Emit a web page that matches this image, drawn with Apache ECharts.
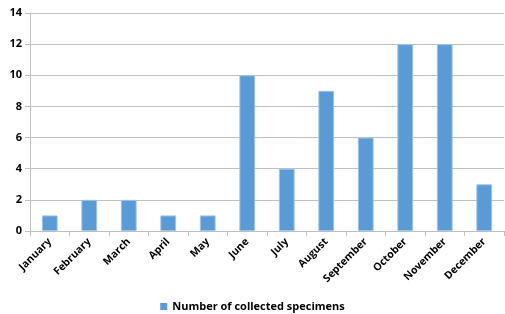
<!DOCTYPE html>
<html>
<head>
<meta charset="utf-8">
<script src="https://cdn.jsdelivr.net/npm/echarts@6/dist/echarts.min.js"></script>
<style>
  html, body { margin: 0; padding: 0; background: #fff; }
  #chart { width: 505px; height: 314px; }
</style>
</head>
<body>
<div id="chart"></div>
<script>
  // data
  var months = ['January', 'February', 'March', 'April', 'May', 'June',
    'July', 'August', 'September', 'October', 'November', 'December'];
  var specimens = [1, 2, 2, 1, 1, 10, 4, 9, 6, 12, 12, 3];
  var seriesName = 'Number of collected specimens';

  var font = '"Open Sans", "Liberation Sans", sans-serif';
  var chart = echarts.init(document.getElementById('chart'));
  chart.setOption({
    animation: false,
    textStyle: {fontFamily: font},
    grid: {left: 30, right: 1, top: 13, bottom: 83},
    legend: {
      data: [seriesName],
      bottom: -3,
      left: 'center',
      icon: 'rect',
      itemWidth: 7,
      itemHeight: 7,
      itemGap: 5,
      itemStyle: {borderWidth: 0},
      textStyle: {color: '#000', fontSize: 11, fontWeight: 'bold', fontFamily: font}
    },
    xAxis: {
      type: 'category',
      data: months,
      axisLine: {lineStyle: {color: '#bfbfbf'}},
      axisTick: {show: true, alignWithLabel: false, length: 5, lineStyle: {color: '#bfbfbf'}},
      axisLabel: {
        rotate: 45,
        interval: 0,
        color: '#000',
        fontSize: 10.5,
        fontWeight: 'bold',
        margin: 9
      }
    },
    yAxis: {
      type: 'value',
      min: 0,
      max: 14,
      interval: 2,
      axisLine: {show: true, lineStyle: {color: '#bfbfbf'}},
      axisTick: {show: true, length: 5, lineStyle: {color: '#bfbfbf'}},
      axisLabel: {color: '#000', fontSize: 11, fontWeight: 'bold', margin: 8},
      splitLine: {lineStyle: {color: '#c0c0c0'}}
    },
    series: [{
      name: seriesName,
      type: 'bar',
      data: specimens,
      barWidth: '40%',
      itemStyle: {color: '#5b9bd5', borderColor: '#9dc3e6', borderWidth: 1}
    }]
  });
</script>
</body>
</html>
